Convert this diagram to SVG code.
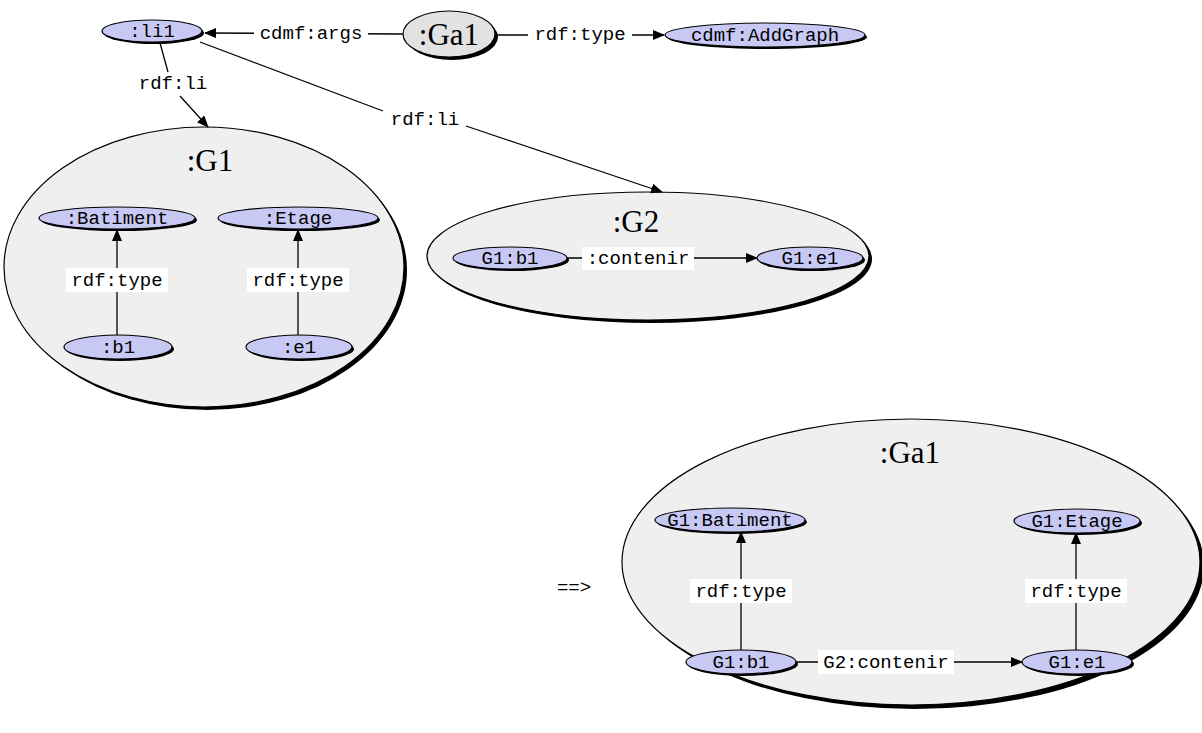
<svg xmlns="http://www.w3.org/2000/svg" width="1202" height="733" viewBox="0 0 1202 733">
<style>
.bg{fill:#ffffff}
.big{fill:#efefef;stroke:#000;stroke-width:1.2}
.bigsh{fill:#000}
.node{fill:#c8c8f4;stroke:#000;stroke-width:1.2}
.gnode{fill:#e2e2e2;stroke:#000;stroke-width:1.2}
.sh{fill:#000}
.mono{font-family:"Liberation Mono","Courier New",monospace;font-size:19px;fill:#000}
.title{font-family:"Liberation Serif","Times New Roman",serif;font-size:31px;fill:#000}
.edge{stroke:#000;stroke-width:1.3;fill:none}
.lbg{fill:#ffffff}
</style>
<defs>
<marker id="arr" markerWidth="12" markerHeight="10" refX="11" refY="5" orient="auto" markerUnits="userSpaceOnUse">
<path d="M0,0 L12,5 L0,10 Z" fill="#000"/>
</marker>
</defs>
<rect class="bg" x="0" y="0" width="1202" height="733"/>

<g id="G1">
<ellipse class="bigsh" cx="207" cy="270" rx="200" ry="140"/>
<ellipse class="big" cx="204" cy="267" rx="200" ry="140"/>
<text class="title" x="210" y="171" text-anchor="middle">:G1</text>
</g>
<g id="G2">
<ellipse class="bigsh" cx="651" cy="259" rx="221" ry="64"/>
<ellipse class="big" cx="648" cy="256" rx="221" ry="64"/>
<text class="title" x="636" y="232" text-anchor="middle">:G2</text>
</g>
<g id="Ga1box">
<ellipse class="bigsh" cx="915" cy="566" rx="289" ry="143"/>
<ellipse class="big" cx="911" cy="562" rx="289" ry="143"/>
<text class="title" x="910" y="463" text-anchor="middle">:Ga1</text>
</g>

<g id="connectors">
<!-- cdmf:args -->
<line class="edge" x1="403" y1="34" x2="205" y2="33" marker-end="url(#arr)"/>
<rect class="lbg" x="254" y="22" width="114" height="22"/>
<text class="mono" x="311" y="39" text-anchor="middle">cdmf:args</text>
<!-- rdf:type Ga1 -> AddGraph -->
<line class="edge" x1="495" y1="35" x2="664" y2="35" marker-end="url(#arr)"/>
<rect class="lbg" x="528" y="24" width="104" height="22"/>
<text class="mono" x="580" y="40" text-anchor="middle">rdf:type</text>
<!-- rdf:li 1 -->
<line class="edge" x1="160" y1="43" x2="168" y2="72"/>
<line class="edge" x1="180" y1="96" x2="208" y2="127" marker-end="url(#arr)"/>
<text class="mono" x="173" y="89" text-anchor="middle">rdf:li</text>
<!-- rdf:li 2 -->
<line class="edge" x1="200" y1="42" x2="383" y2="111"/>
<line class="edge" x1="466" y1="126" x2="662" y2="192" marker-end="url(#arr)"/>
<text class="mono" x="425" y="125" text-anchor="middle">rdf:li</text>
<!-- G1 rdf:type -->
<line class="edge" x1="117" y1="335" x2="117" y2="230" marker-end="url(#arr)"/>
<rect class="lbg" x="66" y="268" width="102" height="24"/>
<text class="mono" x="117" y="286" text-anchor="middle">rdf:type</text>
<line class="edge" x1="298" y1="335" x2="298" y2="230" marker-end="url(#arr)"/>
<rect class="lbg" x="247" y="268" width="102" height="24"/>
<text class="mono" x="298" y="286" text-anchor="middle">rdf:type</text>
<!-- G2 contenir -->
<line class="edge" x1="567" y1="258" x2="757" y2="258" marker-end="url(#arr)"/>
<rect class="lbg" x="582" y="247" width="112" height="23"/>
<text class="mono" x="638" y="264" text-anchor="middle">:contenir</text>
<!-- Ga1 rdf:type -->
<line class="edge" x1="741" y1="650" x2="741" y2="532" marker-end="url(#arr)"/>
<rect class="lbg" x="690" y="579" width="102" height="24"/>
<text class="mono" x="741" y="597" text-anchor="middle">rdf:type</text>
<line class="edge" x1="1076" y1="650" x2="1076" y2="533" marker-end="url(#arr)"/>
<rect class="lbg" x="1025" y="579" width="102" height="24"/>
<text class="mono" x="1076" y="597" text-anchor="middle">rdf:type</text>
<!-- Ga1 G2:contenir -->
<line class="edge" x1="797" y1="662" x2="1022" y2="662" marker-end="url(#arr)"/>
<rect class="lbg" x="818" y="650" width="136" height="24"/>
<text class="mono" x="886" y="668" text-anchor="middle">G2:contenir</text>
</g>

<g id="li1">
<ellipse class="sh" cx="154" cy="33" rx="50" ry="11"/>
<ellipse class="node" cx="152" cy="31" rx="50" ry="11"/>
<text class="mono" x="152" y="37" text-anchor="middle">:li1</text>
</g>
<g id="Ga1">
<ellipse class="sh" cx="452" cy="37" rx="46" ry="23"/>
<ellipse class="gnode" cx="449" cy="34" rx="46" ry="23"/>
<text class="title" x="449" y="45" text-anchor="middle">:Ga1</text>
</g>
<g id="AddGraph">
<ellipse class="sh" cx="767" cy="37" rx="100" ry="12"/>
<ellipse class="node" cx="765" cy="35" rx="100" ry="12"/>
<text class="mono" x="765" y="41" text-anchor="middle">cdmf:AddGraph</text>
</g>
<g id="Batiment">
<ellipse class="sh" cx="119" cy="220" rx="78" ry="11"/>
<ellipse class="node" cx="117" cy="218" rx="78" ry="11"/>
<text class="mono" x="117" y="224" text-anchor="middle">:Batiment</text>
</g>
<g id="Etage">
<ellipse class="sh" cx="300" cy="220" rx="80" ry="11"/>
<ellipse class="node" cx="298" cy="218" rx="80" ry="11"/>
<text class="mono" x="298" y="224" text-anchor="middle">:Etage</text>
</g>
<g id="b1">
<ellipse class="sh" cx="120" cy="349" rx="54" ry="12"/>
<ellipse class="node" cx="118" cy="347" rx="54" ry="12"/>
<text class="mono" x="118" y="353" text-anchor="middle">:b1</text>
</g>
<g id="e1">
<ellipse class="sh" cx="301" cy="349" rx="53" ry="12"/>
<ellipse class="node" cx="299" cy="347" rx="53" ry="12"/>
<text class="mono" x="299" y="353" text-anchor="middle">:e1</text>
</g>
<g id="G2b1">
<ellipse class="sh" cx="512" cy="260" rx="57" ry="11"/>
<ellipse class="node" cx="510" cy="258" rx="57" ry="11"/>
<text class="mono" x="510" y="264" text-anchor="middle">G1:b1</text>
</g>
<g id="G2e1">
<ellipse class="sh" cx="812" cy="260" rx="53" ry="11"/>
<ellipse class="node" cx="810" cy="258" rx="53" ry="11"/>
<text class="mono" x="810" y="264" text-anchor="middle">G1:e1</text>
</g>
<g id="Ga1Batiment">
<ellipse class="sh" cx="732" cy="522" rx="75" ry="12"/>
<ellipse class="node" cx="730" cy="520" rx="75" ry="12"/>
<text class="mono" x="730" y="526" text-anchor="middle">G1:Batiment</text>
</g>
<g id="Ga1Etage">
<ellipse class="sh" cx="1079" cy="523" rx="63" ry="12"/>
<ellipse class="node" cx="1077" cy="521" rx="63" ry="12"/>
<text class="mono" x="1077" y="527" text-anchor="middle">G1:Etage</text>
</g>
<g id="Ga1b1">
<ellipse class="sh" cx="743" cy="664" rx="55" ry="12"/>
<ellipse class="node" cx="741" cy="662" rx="55" ry="12"/>
<text class="mono" x="741" y="668" text-anchor="middle">G1:b1</text>
</g>
<g id="Ga1e1">
<ellipse class="sh" cx="1079" cy="664" rx="55" ry="12"/>
<ellipse class="node" cx="1077" cy="662" rx="55" ry="12"/>
<text class="mono" x="1077" y="668" text-anchor="middle">G1:e1</text>
</g>

<text class="mono" x="574" y="593" text-anchor="middle">==&gt;</text>
</svg>
